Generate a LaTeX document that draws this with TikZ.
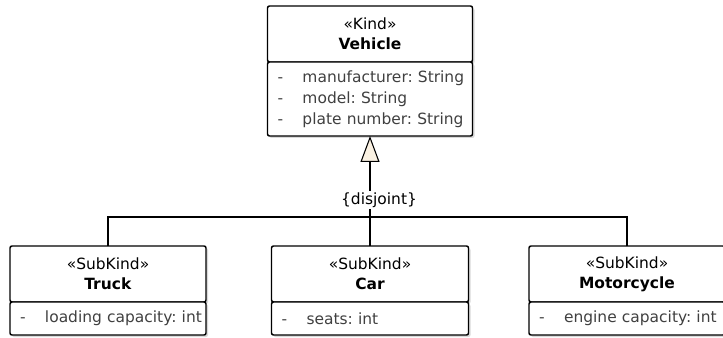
\documentclass[tikz,border=0pt]{standalone}
\usepackage{fontspec}
\setmainfont{DejaVu Sans}
\usepackage{tikz}
\usetikzlibrary{arrows.meta, positioning, shadows}
\frenchspacing
\definecolor{cream}{RGB}{250,241,226}
\definecolor{attrgray}{RGB}{64,64,64}
\tikzstyle{classhead} = [rectangle, rounded corners=1.5pt, draw=black, fill=white, line width=1.1pt, outer sep=0pt, minimum height=42pt, align=center, font=\fontsize{11.6}{15}\selectfont, drop shadow={shadow xshift=1.5pt, shadow yshift=-1.5pt, fill=black, opacity=0.15}]
\tikzstyle{classbody} = [classhead, align=left, inner xsep=7.5pt, minimum height=24.75pt, text=attrgray, font=\fontsize{11.6}{15.75}\selectfont]
\tikzstyle{genline} = [line width=0.8pt, draw=black]
\tikzstyle{gen} = [genline, -{Triangle[length=19.5pt, width=14.25pt, fill=cream]}]
\newcommand{\attr}[1]{\mbox{\makebox[18.75pt][l]{-}#1}}

\begin{document}
\begin{tikzpicture}[x=0.75pt, y=-0.75pt]
    \useasboundingbox (0,0) rectangle (723,338);

    \node (vehicle) [classhead, minimum width=153.75pt] at (370,34) {«Kind»\\\textbf{Vehicle}};
    \node (vehicleattr) [classbody, below=0pt of vehicle, minimum width=153.75pt, text width=138.75pt, minimum height=55.5pt] {\attr{manufacturer: String}\\\attr{model: String}\\\attr{plate number: String}};

    \node (truck) [classhead, minimum width=147pt] at (108,274) {«SubKind»\\\textbf{Truck}};
    \node (truckattr) [classbody, below=0pt of truck, minimum width=147pt, text width=132pt] {\attr{loading capacity: int}};

    \node (car) [classhead, minimum width=147.75pt] at (370,274) {«SubKind»\\\textbf{Car}};
    \node (carattr) [classbody, below=0pt of car, minimum width=147.75pt, text width=132.75pt] {\attr{seats: int}};

    \node (moto) [classhead, minimum width=147pt] at (627,274) {«SubKind»\\\textbf{Motorcycle}};
    \node (motoattr) [classbody, below=0pt of moto, minimum width=147pt, text width=132pt] {\attr{engine capacity: int}};

    \coordinate (join) at (370,217);

    \draw [genline] (truck.north) |- (join);
    \draw [genline] (moto.north) |- (join);
    \draw [gen] (car.north) -- (vehicleattr.south);
    \node (disjoint) [fill=white, inner sep=1pt, font=\fontsize{11.6}{14}\selectfont] at (379,200) {\{disjoint\}};
\end{tikzpicture}
\end{document}
